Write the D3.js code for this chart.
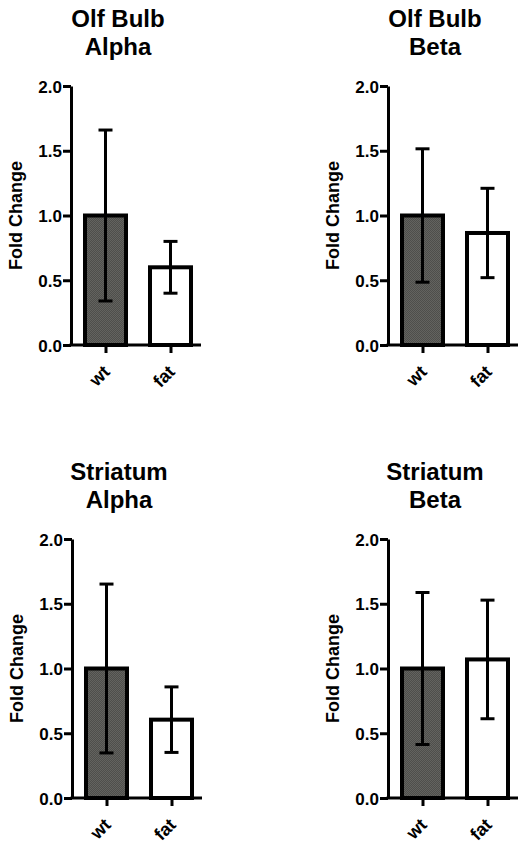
<!DOCTYPE html>
<html>
<head>
<meta charset="utf-8">
<script src="https://cdn.jsdelivr.net/npm/d3@7"></script>
<style>
  html, body { margin: 0; padding: 0; background: #fff; }
  svg { display: block; }
  text { font-family: "Liberation Sans", Arial, Helvetica, sans-serif; font-weight: bold; fill: #000; }
</style>
</head>
<body>
<svg id="chart" width="529" height="850"></svg>
<script>
// ---- data ----
const groups = ["wt", "fat"];
const titles = [["Olf Bulb", "Alpha"], ["Olf Bulb", "Beta"], ["Striatum", "Alpha"], ["Striatum", "Beta"]];
const means  = [[1.0, 0.60], [1.0, 0.865], [1.0, 0.605], [1.0, 1.07]];
const errors = [[0.66, 0.20], [0.515, 0.345], [0.652, 0.253], [0.587, 0.458]];
const yTicks = [0, 0.5, 1.0, 1.5, 2.0];
const yLabel = "Fold Change";

// ---- layout ----
const origins = [[71, 86], [388, 86], [72, 539], [388, 539]];
const plotH = 259, plotW = 130;

const svg = d3.select("#chart");
const defs = svg.append("defs");
const pat = defs.append("pattern").attr("id", "checker")
  .attr("width", 2).attr("height", 2).attr("patternUnits", "userSpaceOnUse");
pat.append("rect").attr("width", 2).attr("height", 2).attr("fill", "#63635f");
pat.append("rect").attr("width", 1).attr("height", 1).attr("fill", "#4e4e4b");
pat.append("rect").attr("x", 1).attr("y", 1).attr("width", 1).attr("height", 1).attr("fill", "#4e4e4b");

const fills = ["url(#checker)", "#ffffff"];

titles.forEach((t, i) => {
  const [ox, oy] = origins[i];
  const g = svg.append("g").attr("transform", `translate(${ox},${oy})`);

  const y = d3.scaleLinear().domain([0, 2]).range([plotH, 0]);
  const x = d3.scalePoint().domain(groups).range([2, plotW + 2]).padding(0.5);

  // title
  const tt = g.append("text").attr("text-anchor", "middle").style("font-size", "24px");
  tt.append("tspan").attr("x", 47).attr("y", -59).text(t[0]);
  tt.append("tspan").attr("x", 47).attr("y", -31).text(t[1]);

  // y label
  g.append("text")
    .attr("transform", `translate(-49.5,${plotH / 2}) rotate(-90)`)
    .attr("text-anchor", "middle")
    .style("font-size", "18px")
    .text(yLabel);

  // bars
  const bw = 41;
  g.selectAll("rect.bar").data(groups).enter().append("rect")
    .attr("class", "bar")
    .attr("x", d => x(d) - bw / 2)
    .attr("width", bw)
    .attr("y", (d, j) => y(means[i][j]))
    .attr("height", (d, j) => y(0) - y(means[i][j]))
    .attr("fill", (d, j) => fills[j])
    .attr("stroke", "#000")
    .attr("stroke-width", 4);

  // error bars
  const eb = g.selectAll("g.err").data(groups).enter().append("g").attr("class", "err");
  eb.append("line")
    .attr("x1", d => x(d)).attr("x2", d => x(d))
    .attr("y1", (d, j) => y(means[i][j] - errors[i][j]))
    .attr("y2", (d, j) => y(means[i][j] + errors[i][j]))
    .attr("stroke", "#000").attr("stroke-width", 3);
  [-1, 1].forEach(s => {
    eb.append("line")
      .attr("x1", d => x(d) - 7).attr("x2", d => x(d) + 7)
      .attr("y1", (d, j) => y(means[i][j] + s * errors[i][j]))
      .attr("y2", (d, j) => y(means[i][j] + s * errors[i][j]))
      .attr("stroke", "#000").attr("stroke-width", 3);
  });

  // y axis
  const ya = g.append("g").call(
    d3.axisLeft(y).tickValues(yTicks).tickFormat(d3.format(".1f")).tickSize(8).tickSizeOuter(0).tickPadding(1)
  );
  ya.select(".domain").attr("stroke", "#000").attr("stroke-width", 3);
  ya.selectAll(".tick line").attr("stroke", "#000").attr("stroke-width", 3);
  ya.selectAll(".tick text").style("font-size", "17px").attr("font-family", null).attr("dy", "0.36em");

  // x axis
  const xa = g.append("g").attr("transform", `translate(0,${plotH})`).call(
    d3.axisBottom(x).tickSize(8).tickSizeOuter(0)
  );
  xa.select(".domain").remove();
  xa.append("line").attr("x1", -1.5).attr("x2", plotW).attr("y1", 0).attr("y2", 0)
    .attr("stroke", "#000").attr("stroke-width", 3);
  xa.selectAll(".tick line").attr("stroke", "#000").attr("stroke-width", 3);
  xa.selectAll(".tick text")
    .style("font-size", "18px").attr("font-family", null)
    .attr("text-anchor", "end")
    .attr("y", 0).attr("dy", 0)
    .attr("transform", "translate(5,28) rotate(-45)");
  ya.attr("font-family", null).attr("font-size", null);
  xa.attr("font-family", null).attr("font-size", null);
});
</script>
</body>
</html>
